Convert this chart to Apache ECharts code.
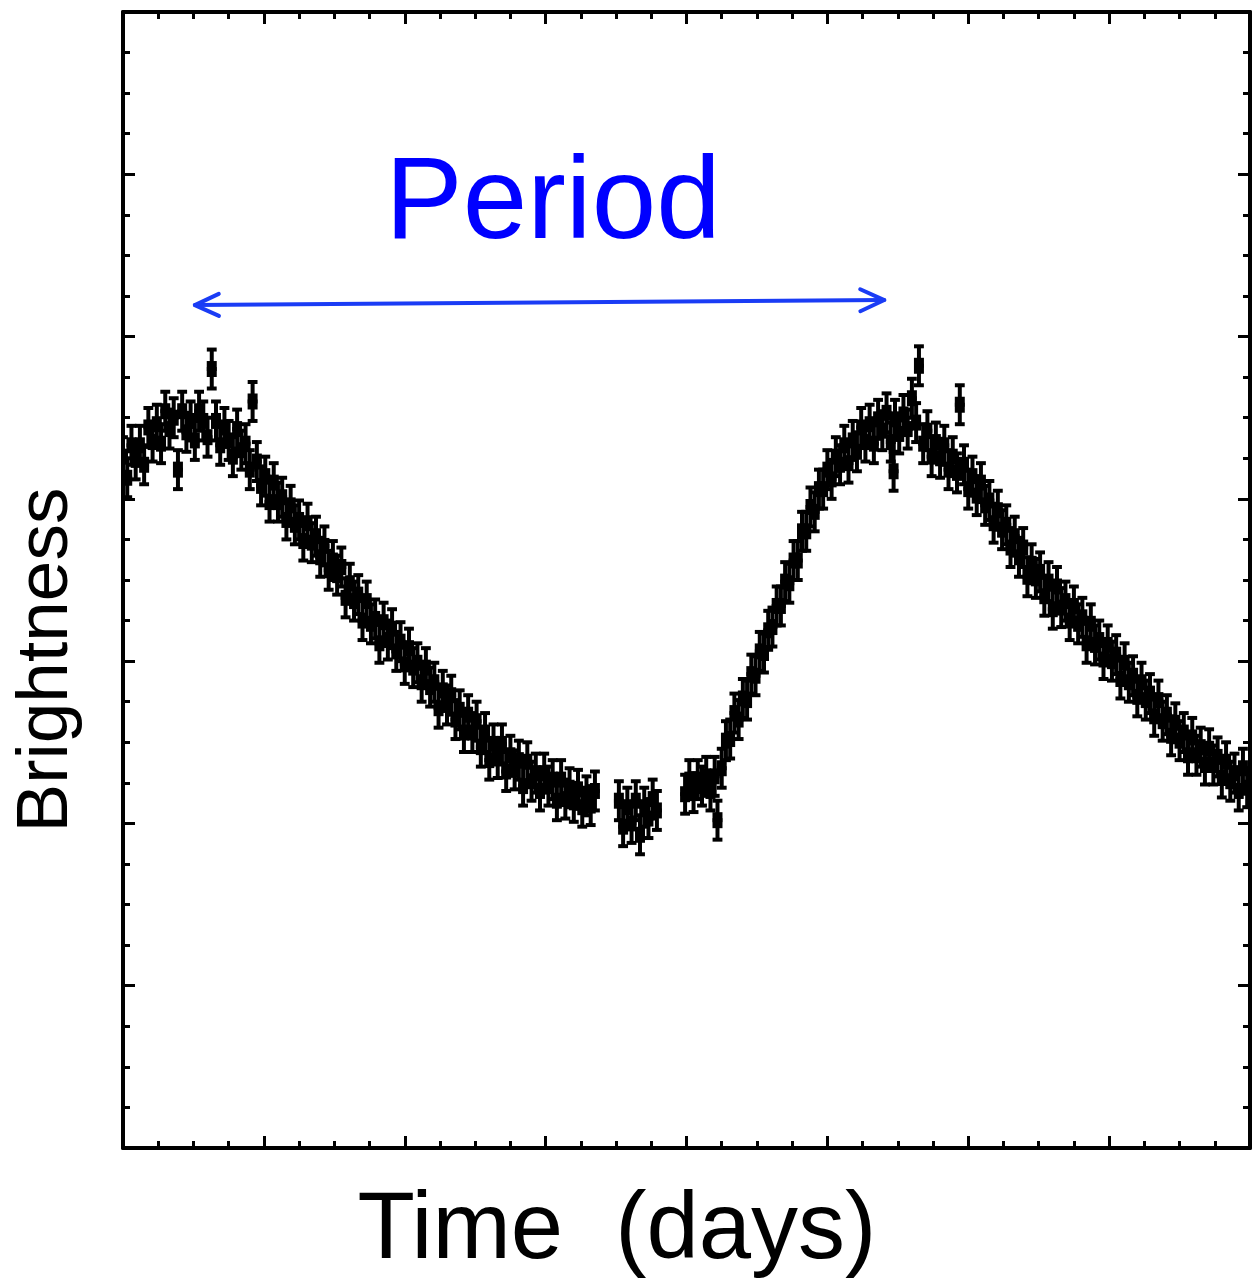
<!DOCTYPE html>
<html><head><meta charset="utf-8">
<script src="https://cdn.jsdelivr.net/npm/echarts@6/dist/echarts.min.js"></script>
<style>html,body{margin:0;padding:0;background:#fff}#c{width:1254px;height:1283px}</style>
</head><body><div id="c"></div>
<script>
// Light curve observations: [time (days), brightness]
const lightCurve = [
[0.00,4.26],[0.03,4.13],[0.06,4.33],[0.09,4.24],[0.12,4.33],[0.15,4.21],[0.18,4.44],[0.21,4.35],[0.24,4.46],[0.27,4.34],
[0.30,4.54],[0.33,4.43],[0.36,4.50],[0.39,4.18],[0.42,4.54],[0.45,4.41],[0.48,4.48],[0.51,4.36],[0.54,4.54],[0.57,4.48],
[0.60,4.38],[0.63,4.80],[0.66,4.48],[0.69,4.33],[0.72,4.44],[0.75,4.36],[0.78,4.26],[0.81,4.43],[0.84,4.30],[0.87,4.34],
[0.90,4.18],[0.92,4.60],[0.95,4.23],[0.98,4.08],[1.01,4.14],[1.04,3.98],[1.07,4.10],[1.10,3.98],[1.13,4.01],[1.16,3.87],
[1.19,3.96],[1.22,3.84],[1.25,3.87],[1.28,3.74],[1.31,3.85],[1.34,3.73],[1.37,3.77],[1.40,3.64],[1.43,3.71],[1.46,3.56],
[1.49,3.62],[1.52,3.53],[1.55,3.58],[1.58,3.39],[1.61,3.48],[1.64,3.37],[1.67,3.41],[1.70,3.25],[1.73,3.37],[1.76,3.23],
[1.79,3.26],[1.82,3.11],[1.85,3.24],[1.88,3.13],[1.91,3.20],[1.94,3.06],[1.97,3.12],[2.00,2.98],[2.03,3.08],[2.06,2.96],
[2.09,2.99],[2.12,2.87],[2.15,2.96],[2.18,2.84],[2.21,2.87],[2.24,2.71],[2.27,2.82],[2.30,2.73],[2.33,2.79],[2.36,2.64],
[2.39,2.70],[2.42,2.56],[2.45,2.67],[2.48,2.56],[2.51,2.63],[2.54,2.47],[2.57,2.56],[2.60,2.39],[2.63,2.49],[2.66,2.40],
[2.69,2.49],[2.72,2.32],[2.75,2.42],[2.78,2.33],[2.81,2.39],[2.84,2.23],[2.87,2.38],[2.90,2.26],[2.93,2.31],[2.96,2.20],
[2.99,2.31],[3.02,2.23],[3.05,2.27],[3.08,2.14],[3.11,2.27],[3.14,2.15],[3.17,2.22],[3.20,2.13],[3.23,2.21],[3.26,2.10],
[3.29,2.17],[3.32,2.11],[3.35,2.20],
[3.52,2.14],[3.55,1.98],[3.58,2.10],[3.61,2.00],[3.64,2.14],[3.67,1.93],[3.70,2.10],[3.73,2.03],[3.76,2.15],[3.79,2.08],
[3.99,2.18],[4.02,2.27],[4.05,2.19],[4.08,2.27],[4.11,2.23],[4.14,2.29],[4.17,2.20],[4.20,2.29],[4.22,2.02],[4.25,2.34],
[4.28,2.51],[4.31,2.52],[4.34,2.68],[4.37,2.64],[4.40,2.77],[4.43,2.76],[4.46,2.92],[4.49,2.91],[4.52,3.06],[4.55,3.05],
[4.58,3.19],[4.61,3.21],[4.64,3.34],[4.67,3.34],[4.70,3.49],[4.73,3.48],[4.76,3.62],[4.79,3.62],[4.82,3.80],[4.85,3.80],
[4.88,3.95],[4.91,3.92],[4.94,4.06],[4.97,4.06],[5.00,4.18],[5.03,4.12],[5.06,4.26],[5.09,4.21],[5.12,4.33],[5.15,4.22],
[5.18,4.36],[5.21,4.29],[5.24,4.44],[5.27,4.35],[5.30,4.46],[5.33,4.34],[5.36,4.49],[5.39,4.42],[5.42,4.53],[5.45,4.35],
[5.47,4.17],[5.48,4.49],[5.51,4.40],[5.54,4.52],[5.57,4.43],[5.60,4.62],[5.63,4.47],[5.65,4.82],[5.68,4.34],[5.71,4.42],
[5.74,4.26],[5.77,4.35],[5.80,4.25],[5.83,4.33],[5.86,4.18],[5.89,4.26],[5.92,4.16],[5.94,4.58],[5.97,4.21],[6.00,4.06],
[6.03,4.14],[6.06,4.02],[6.09,4.10],[6.12,3.96],[6.15,3.99],[6.18,3.85],[6.21,3.93],[6.24,3.81],[6.27,3.84],[6.30,3.70],
[6.33,3.77],[6.36,3.64],[6.39,3.70],[6.42,3.52],[6.45,3.60],[6.48,3.51],[6.51,3.55],[6.54,3.40],[6.57,3.49],[6.60,3.32],
[6.63,3.46],[6.66,3.33],[6.69,3.37],[6.72,3.25],[6.75,3.34],[6.78,3.23],[6.81,3.27],[6.84,3.11],[6.87,3.23],[6.90,3.10],
[6.93,3.13],[6.96,3.01],[6.99,3.10],[7.02,3.00],[7.05,3.04],[7.08,2.89],[7.11,2.99],[7.14,2.87],[7.17,2.91],[7.20,2.78],
[7.23,2.87],[7.26,2.76],[7.29,2.80],[7.32,2.66],[7.35,2.76],[7.38,2.63],[7.41,2.67],[7.44,2.54],[7.47,2.62],[7.50,2.51],
[7.53,2.56],[7.56,2.42],[7.59,2.53],[7.62,2.42],[7.65,2.47],[7.68,2.36],[7.71,2.46],[7.74,2.36],[7.77,2.41],[7.80,2.28],
[7.83,2.38],[7.86,2.26],[7.89,2.31],[7.92,2.20],[7.95,2.34],[7.98,2.22]
];
const errBrightness = 0.12;   // vertical error bar half-length
const errTime = 0.035;        // horizontal bar half-length
const timeRange = [0, 8];
const brightnessRange = [0, 7];
// Period arrow endpoints [time, brightness]
const periodArrow = [[0.51, 5.194], [5.404, 5.225]];
const periodLabel = 'Period';
const xTitle = 'Time  (days)';
const yTitle = 'Brightness';

const chart = echarts.init(document.getElementById('c'));

function axisBase(pos, range) {
  return {
    type: 'value', position: pos, min: range[0], max: range[1], interval: 1,
    axisLine: {show: true, onZero: false, lineStyle: {color: '#000', width: 4}},
    axisTick: {show: true, inside: true, length: 12, lineStyle: {color: '#000', width: 3}},
    minorTick: {show: true, splitNumber: 4, length: 7, lineStyle: {color: '#000', width: 3}},
    axisLabel: {show: false}, splitLine: {show: false}, minorSplitLine: {show: false}
  };
}

function renderPoint(params, api) {
  const x = api.value(0), y = api.value(1);
  const c = api.coord([x, y]);
  const top = api.coord([x, y + errBrightness]);
  const bot = api.coord([x, y - errBrightness]);
  const l = api.coord([x - errTime, y]);
  const r = api.coord([x + errTime, y]);
  const hw = (r[0] - l[0]) / 2;
  const st = {stroke: '#000', lineWidth: 4};
  return {type: 'group', children: [
    {type: 'line', shape: {x1: c[0], y1: top[1], x2: c[0], y2: bot[1]}, style: st},
    {type: 'line', shape: {x1: c[0] - hw, y1: top[1], x2: c[0] + hw, y2: top[1]}, style: st},
    {type: 'line', shape: {x1: c[0] - hw, y1: bot[1], x2: c[0] + hw, y2: bot[1]}, style: st},
    {type: 'line', shape: {x1: l[0], y1: c[1], x2: r[0], y2: c[1]}, style: st},
    {type: 'rect', shape: {x: c[0] - 5, y: c[1] - 8, width: 10, height: 16}, style: {fill: '#000'}}
  ]};
}

function renderArrow(params, api) {
  if (params.dataIndex !== 0) return null;
  const a = api.coord(periodArrow[0]);
  const b = api.coord(periodArrow[1]);
  const ang = Math.atan2(b[1] - a[1], b[0] - a[0]);
  const L = 24, W = 11;
  function head(p, dir) {
    const cx = Math.cos(ang) * dir, sx = Math.sin(ang) * dir;
    return [
      [p[0] + L * cx - W * (-sx), p[1] + L * sx - W * cx],
      p,
      [p[0] + L * cx + W * (-sx), p[1] + L * sx + W * cx]
    ];
  }
  const st = {stroke: '#1a3cf5', lineWidth: 4, lineCap: 'round', lineJoin: 'round', fill: null};
  return {type: 'group', children: [
    {type: 'line', shape: {x1: a[0], y1: a[1], x2: b[0], y2: b[1]}, style: st},
    {type: 'polyline', shape: {points: head(a, 1)}, style: st},
    {type: 'polyline', shape: {points: head(b, -1)}, style: st}
  ]};
}

chart.setOption({
  animation: false,
  backgroundColor: '#fff',
  grid: {left: 123, right: 4, top: 12, bottom: 135},
  xAxis: [axisBase('bottom', timeRange), axisBase('top', timeRange)],
  yAxis: [axisBase('left', brightnessRange), axisBase('right', brightnessRange)],
  series: [
    {type: 'custom', renderItem: renderPoint, data: lightCurve, clip: true, xAxisIndex: 0, yAxisIndex: 0, silent: true},
    {type: 'custom', renderItem: renderArrow, data: periodArrow, clip: false, xAxisIndex: 0, yAxisIndex: 0, silent: true}
  ],
  graphic: [
    {type: 'text', x: 553, y: 206, style: {text: periodLabel, font: '116px "Liberation Sans", Arial, sans-serif', fill: '#0000ff', textAlign: 'center', textVerticalAlign: 'middle'}},
    {type: 'text', x: 617, y: 1232, style: {text: xTitle, font: '94px "Liberation Sans", Arial, sans-serif', fill: '#000', textAlign: 'center', textVerticalAlign: 'middle'}},
    {type: 'text', x: 47, y: 660, rotation: Math.PI / 2, style: {text: yTitle, font: '73px "Liberation Sans", Arial, sans-serif', fill: '#000', textAlign: 'center', textVerticalAlign: 'middle'}}
  ]
});
</script>
</body></html>
